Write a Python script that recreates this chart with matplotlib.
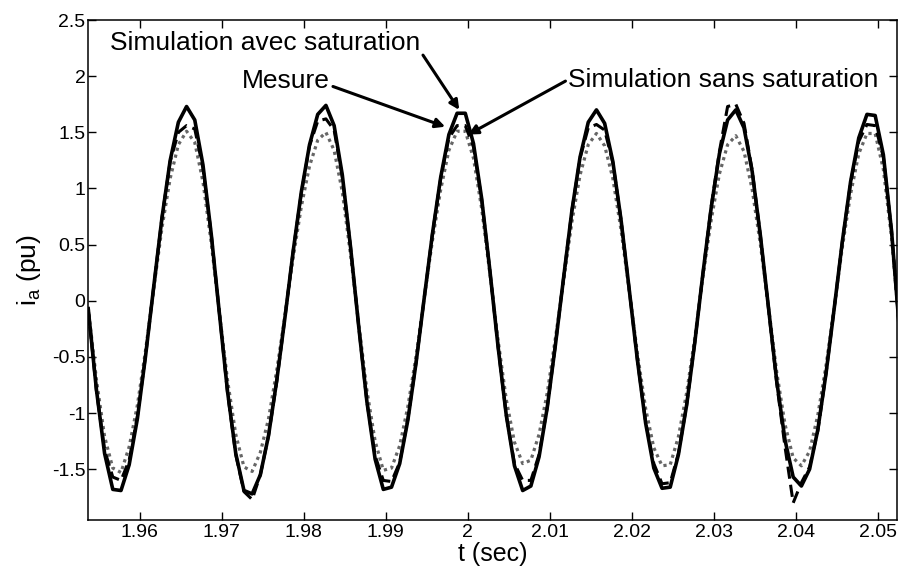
import numpy as np
import matplotlib
matplotlib.use("Agg")
import matplotlib.pyplot as plt
from matplotlib.ticker import FuncFormatter

plt.rcParams['font.family'] = ['Liberation Sans', 'DejaVu Sans']

# sampling grid of the recorded traces (1 ms)
t0 = 1.9537
dt = 0.001

# Simulation avec saturation (solid)
sim_sat = [
    -0.07, -0.79, -1.36, -1.68, -1.69, -1.46, -1.05, -0.49, 0.13, 0.74,
    1.25, 1.59, 1.73, 1.61, 1.21, 0.60, -0.11, -0.81, -1.36, -1.69,
    -1.72, -1.55, -1.20, -0.71, -0.15, 0.44, 0.97, 1.39, 1.66, 1.74,
    1.56, 1.12, 0.48, -0.23, -0.90, -1.41, -1.68, -1.66, -1.45, -1.06,
    -0.55, 0.03, 0.60, 1.10, 1.48, 1.67, 1.67, 1.40, 0.91, 0.27,
    -0.41, -1.02, -1.47, -1.69, -1.65, -1.39, -0.95, -0.39, 0.21, 0.80,
    1.28, 1.59, 1.70, 1.58, 1.24, 0.72, 0.10, -0.53, -1.09, -1.49,
    -1.67, -1.66, -1.37, -0.93, -0.37, 0.25, 0.83, 1.31, 1.61, 1.70,
    1.54, 1.15, 0.58, -0.07, -0.72, -1.24, -1.57, -1.65, -1.50, -1.15,
    -0.65, -0.07, 0.53, 1.06, 1.45, 1.66, 1.65, 1.30, 0.62, -0.30,
]

# Mesure (dashed)
mesure = [
    -0.07, -0.80, -1.33, -1.57, -1.60, -1.42, -1.03, -0.49, 0.13, 0.74,
    1.24, 1.50, 1.56, 1.53, 1.18, 0.60, -0.11, -0.82, -1.37, -1.70,
    -1.77, -1.55, -1.20, -0.72, -0.15, 0.44, 0.96, 1.38, 1.60, 1.62,
    1.52, 1.10, 0.48, -0.23, -0.90, -1.38, -1.60, -1.61, -1.44, -1.05,
    -0.55, 0.03, 0.60, 1.09, 1.45, 1.56, 1.56, 1.37, 0.90, 0.27,
    -0.41, -1.02, -1.45, -1.60, -1.60, -1.37, -0.95, -0.39, 0.21, 0.80,
    1.27, 1.54, 1.57, 1.52, 1.23, 0.72, 0.10, -0.53, -1.08, -1.45,
    -1.63, -1.62, -1.36, -0.93, -0.37, 0.25, 0.84, 1.33, 1.73, 1.75,
    1.58, 1.16, 0.58, -0.08, -0.74, -1.30, -1.80, -1.62, -1.48, -1.16,
    -0.65, -0.07, 0.53, 1.05, 1.42, 1.57, 1.56, 1.28, 0.62, -0.30,
]

# Simulation sans saturation (dotted)
sim_nosat = [
    -0.06, -0.70, -1.21, -1.49, -1.53, -1.30, -0.93, -0.44, 0.11, 0.65,
    1.09, 1.39, 1.51, 1.41, 1.06, 0.52, -0.10, -0.71, -1.19, -1.48,
    -1.52, -1.35, -1.05, -0.62, -0.13, 0.38, 0.84, 1.20, 1.43, 1.50,
    1.34, 0.97, 0.41, -0.20, -0.80, -1.25, -1.51, -1.49, -1.29, -0.94,
    -0.49, 0.03, 0.54, 0.99, 1.34, 1.51, 1.51, 1.27, 0.82, 0.24,
    -0.35, -0.88, -1.26, -1.45, -1.42, -1.19, -0.82, -0.33, 0.18, 0.70,
    1.12, 1.39, 1.49, 1.38, 1.09, 0.63, 0.09, -0.47, -0.96, -1.31,
    -1.47, -1.46, -1.21, -0.82, -0.33, 0.22, 0.72, 1.13, 1.39, 1.47,
    1.33, 0.99, 0.50, -0.06, -0.64, -1.10, -1.40, -1.47, -1.34, -1.02,
    -0.58, -0.06, 0.48, 0.95, 1.31, 1.49, 1.49, 1.17, 0.56, -0.27,
]

t = t0 + dt * np.arange(len(sim_sat))

xticks = [1.96, 1.97, 1.98, 1.99, 2.00, 2.01, 2.02, 2.03, 2.04, 2.05]
yticks = [-1.5, -1, -0.5, 0, 0.5, 1, 1.5, 2, 2.5]

fig = plt.figure(figsize=(9, 5.73), dpi=100)
ax = fig.add_axes([0.098, 0.093, 0.899, 0.872])

ax.plot(t, sim_nosat, color='#666666', lw=2.3, ls=(0, (1, 1.2)))
ax.plot(t, mesure, color='black', lw=2.2, ls=(0, (4, 2)))
ax.plot(t, sim_sat, color='black', lw=2.6)

ax.set_xlim(1.9537, 2.0524)
ax.set_ylim(-1.95, 2.5)
ax.set_xticks(xticks)
ax.set_yticks(yticks)
fmt = FuncFormatter(lambda v, p: ('%g' % round(v, 4)))
ax.xaxis.set_major_formatter(fmt)
ax.yaxis.set_major_formatter(fmt)
ax.tick_params(direction='in', length=6, width=1, labelsize=14,
               top=True, right=True, pad=3)
ax.tick_params(axis='y', pad=2)
for s in ax.spines.values():
    s.set_linewidth(1.1)

ax.set_xlabel('t (sec)', fontsize=18, labelpad=1)
ax.set_ylabel(r'$\mathregular{i_a}$ (pu)', fontsize=19, labelpad=6)

# annotations with arrows
def arrow(rel):
    return dict(arrowstyle='-|>', lw=2.2, color='black', mutation_scale=14,
                shrinkA=0, shrinkB=0, relpos=rel)

ax.annotate('Simulation avec saturation', xy=(1.99896, 1.70),
            xytext=(1.99420, 2.30), fontsize=19, ha='right', va='center',
            arrowprops=arrow((1.0, 0.15)))
ax.annotate('Mesure', xy=(1.99725, 1.55),
            xytext=(1.98322, 1.96), fontsize=19, ha='right', va='center',
            arrowprops=arrow((1.0, 0.3)))
ax.annotate('Simulation sans saturation', xy=(2.00006, 1.48),
            xytext=(2.01226, 1.97), fontsize=19, ha='left', va='center',
            arrowprops=arrow((0.0, 0.5)))

fig.savefig('out.png', dpi=100)
